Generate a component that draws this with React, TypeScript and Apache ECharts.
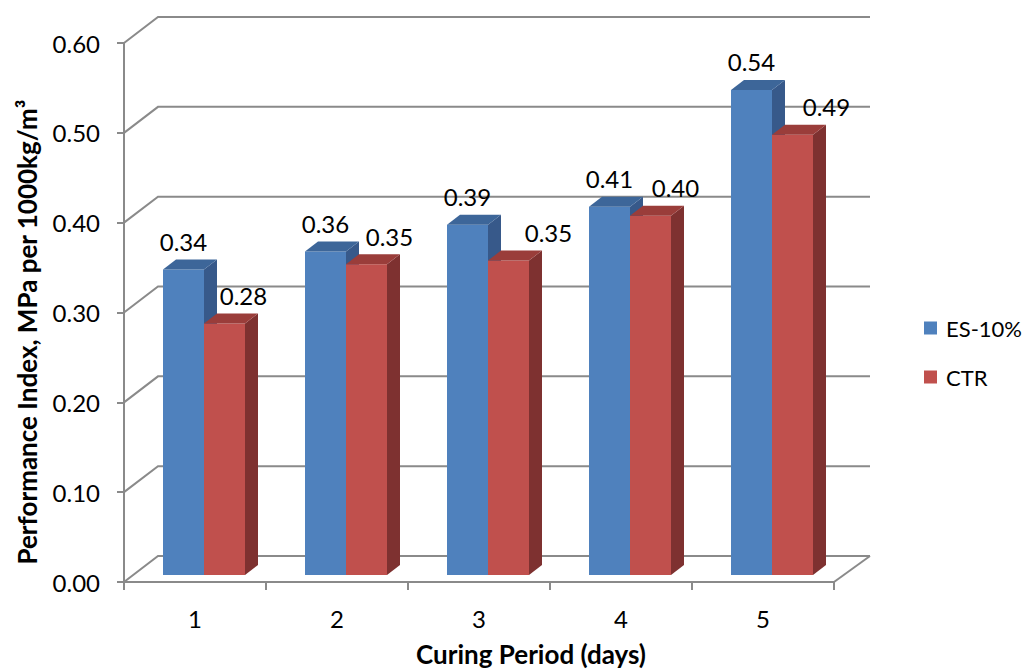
import React, { useEffect, useRef } from "react";
import * as echarts from "echarts";

const categories = ["1", "2", "3", "4", "5"];
const es10Values = [0.34, 0.36, 0.39, 0.41, 0.54];
const ctrValues = [0.28, 0.346, 0.35, 0.4, 0.49];
const yTickValues = [0, 0.1, 0.2, 0.3, 0.4, 0.5, 0.6];
const seriesNames = ["ES-10%", "CTR"];
const yTitle = "Performance Index, MPa per 1000kg/m\u00B3";
const xTitle = "Curing Period (days)";

// style constants (not data)
const FONT = "Lato, 'Open Sans', sans-serif";
const GRID_COLOR = "#8a8a8a";
const WALL_DX = 34;
const WALL_DY = 26;
const BAR_OFF_X = 9;
const BAR_OFF_Y = 7;
const BAR_DEPTH_X = 13;
const BAR_DEPTH_Y = 10;
const BAR_W = 41;
const LABEL_SIZE = 24;
const TITLE_SIZE = 26;
const ctrLabelShift = [19, 23, 40, 25, 34];

const blue = { front: "#4F81BD", top: "#3D6699", side: "#37598A" };
const red = { front: "#C0504D", top: "#9A3D3A", side: "#7E3130" };

function gridRender(params: any, api: any) {
  const cs = params.coordSys;
  const v = api.value(1);
  const p = api.coord([0, v]);
  const x0 = cs.x;
  const x1 = cs.x + cs.width;
  const y = p[1];
  const children: any[] = [
    {
      type: "polyline",
      shape: {
        points: [
          [x0, y],
          [x0 + WALL_DX, y - WALL_DY],
          [x1 + WALL_DX + 2, y - WALL_DY],
        ],
      },
      style: { stroke: GRID_COLOR, lineWidth: 2, fill: null },
    },
  ];
  if (v === 0) {
    children.push({
      type: "line",
      shape: { x1: x1, y1: y, x2: x1 + WALL_DX + 2, y2: y - WALL_DY },
      style: { stroke: GRID_COLOR, lineWidth: 2 },
    });
  }
  return { type: "group", children };
}

function barRender(isLeft: boolean, colors: any, shifts: number[] | null) {
  return (params: any, api: any) => {
    const idx = api.value(0);
    const val = api.value(1);
    const base = api.coord([idx, 0]);
    const top = api.coord([idx, val]);
    const cx = base[0];
    const yb = base[1] - BAR_OFF_Y;
    const yt = top[1] - BAR_OFF_Y;
    const xl = isLeft ? cx + BAR_OFF_X - BAR_W : cx + BAR_OFF_X;
    const xr = xl + BAR_W;
    const dx = BAR_DEPTH_X;
    const dy = BAR_DEPTH_Y;
    const lx = xl + BAR_W / 2 + (shifts ? shifts[params.dataIndex] : 0);
    const ly = yt - dy - 18;
    return {
      type: "group",
      children: [
        {
          type: "rect",
          shape: { x: xl, y: yt, width: BAR_W, height: yb - yt },
          style: { fill: colors.front },
        },
        {
          type: "polygon",
          shape: {
            points: [
              [xr, yt],
              [xr + dx, yt - dy],
              [xr + dx, yb - dy],
              [xr, yb],
            ],
          },
          style: { fill: colors.side },
        },
        {
          type: "polygon",
          shape: {
            points: [
              [xl, yt],
              [xl + dx, yt - dy],
              [xr + dx, yt - dy],
              [xr, yt],
            ],
          },
          style: { fill: colors.top },
        },
        {
          type: "text",
          x: lx,
          y: ly,
          style: {
            text: val.toFixed(2),
            fill: "#000",
            fontSize: LABEL_SIZE,
            fontFamily: FONT,
            align: "center",
            verticalAlign: "middle",
            textAlign: "center",
            textVerticalAlign: "middle",
          },
        },
      ],
    };
  };
}

export default function App() {
  const ref = useRef<HTMLDivElement>(null);
  useEffect(() => {
    if (!ref.current) return;
    const chart = echarts.init(ref.current, null, { renderer: "svg" });
    chart.setOption({
      animation: false,
      backgroundColor: "#fff",
      textStyle: { fontFamily: FONT },
      grid: {
        left: 124,
        top: 43,
        width: 710,
        height: 539,
        outerBoundsMode: "none",
        containLabel: false,
      },
      legend: {
        data: seriesNames,
        orient: "vertical",
        left: 919,
        top: 312,
        icon: "rect",
        itemWidth: 13,
        itemHeight: 13,
        itemGap: 27,
        textStyle: {
          fontSize: 22,
          fontFamily: FONT,
          color: "#000",
          padding: [0, 0, 0, 4],
        },
      },
      xAxis: {
        type: "category",
        data: categories,
        axisLine: { show: true, lineStyle: { color: GRID_COLOR, width: 2 } },
        axisTick: { show: true, length: 8, interval: 0, lineStyle: { color: GRID_COLOR, width: 2 } },
        axisLabel: { fontSize: LABEL_SIZE, fontFamily: FONT, color: "#000", margin: 24 },
        splitLine: { show: false },
      },
      yAxis: {
        type: "value",
        min: 0,
        max: 0.6,
        interval: 0.1,
        axisLine: { show: true, lineStyle: { color: GRID_COLOR, width: 2 } },
        axisTick: { show: true, length: 7, lineStyle: { color: GRID_COLOR, width: 2 } },
        axisLabel: {
          fontSize: LABEL_SIZE,
          fontFamily: FONT,
          color: "#000",
          margin: 24,
          formatter: (v: number) => v.toFixed(2),
        },
        splitLine: { show: false },
      },
      graphic: [
        {
          type: "text",
          x: 27,
          y: 332,
          rotation: Math.PI / 2,
          style: {
            text: yTitle,
            font: "bold " + TITLE_SIZE + "px " + FONT,
            fill: "#000",
            align: "center",
            verticalAlign: "middle",
            textAlign: "center",
            textVerticalAlign: "middle",
          },
        },
        {
          type: "text",
          x: 531,
          y: 654,
          style: {
            text: xTitle,
            font: "bold " + TITLE_SIZE + "px " + FONT,
            fill: "#000",
            align: "center",
            verticalAlign: "middle",
            textAlign: "center",
            textVerticalAlign: "middle",
          },
        },
      ],
      series: [
        {
          type: "custom",
          name: "walls",
          silent: true,
          z: 1,
          renderItem: gridRender,
          data: yTickValues.map((v) => [0, v]),
        },
        {
          type: "custom",
          name: seriesNames[0],
          z: 3,
          itemStyle: { color: blue.front },
          renderItem: barRender(true, blue, null),
          data: es10Values.map((v, i) => [i, v]),
        },
        {
          type: "custom",
          name: seriesNames[1],
          z: 4,
          itemStyle: { color: red.front },
          renderItem: barRender(false, red, ctrLabelShift),
          data: ctrValues.map((v, i) => [i, v]),
        },
      ],
    });
    return () => chart.dispose();
  }, []);
  return (
    <div
      ref={ref}
      style={{ position: "fixed", left: 0, top: 0, width: 1024, height: 672 }}
    />
  );
}
